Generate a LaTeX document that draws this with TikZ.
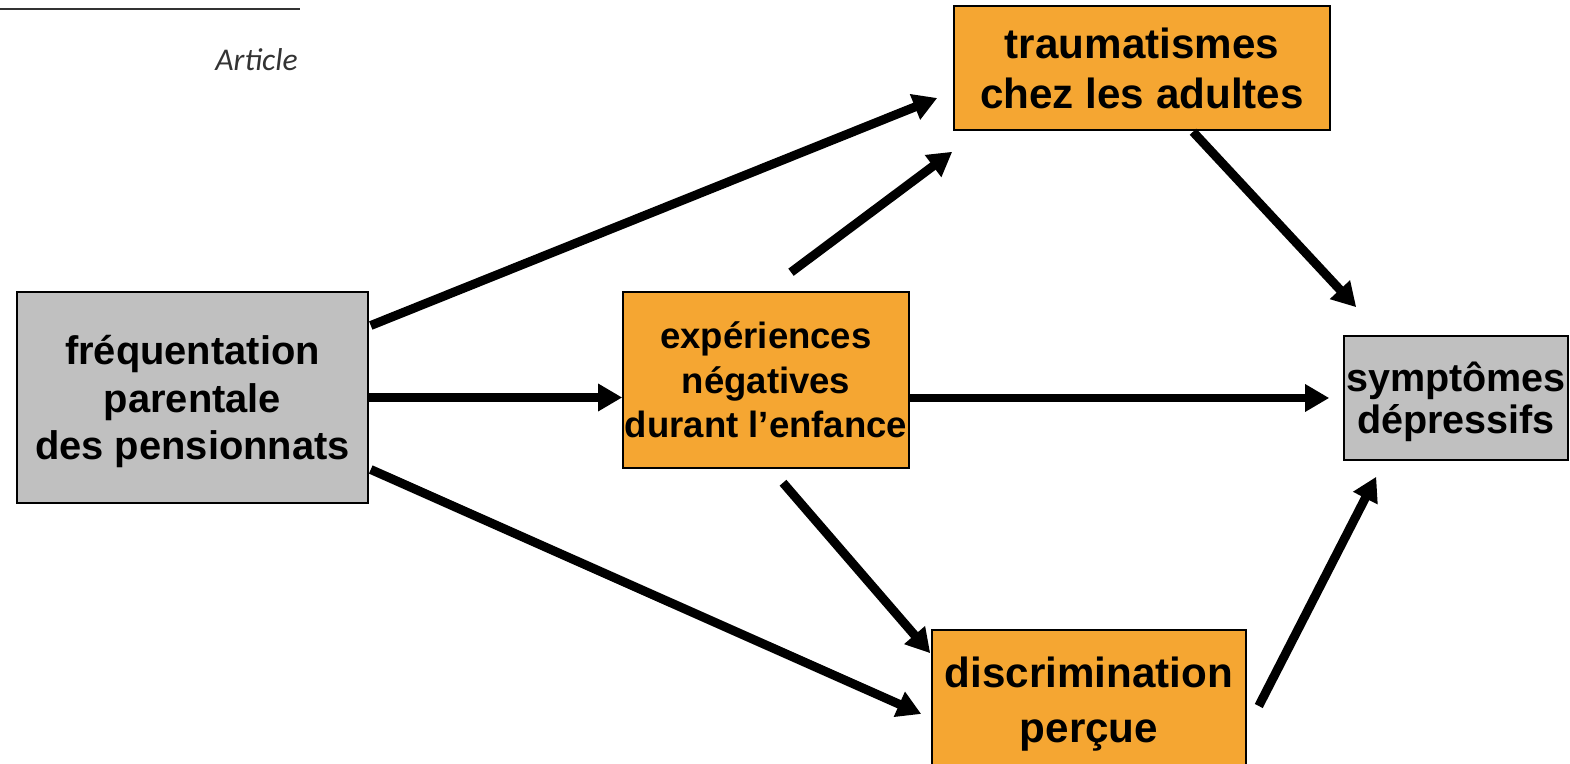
\documentclass[tikz,border=0pt]{standalone}
\usepackage{fontspec}
\setmainfont{Liberation Sans}
\newfontfamily\articlefont{Carlito}
\usetikzlibrary{arrows.meta, calc, positioning}

\definecolor{boxorange}{RGB}{245,166,50}
\definecolor{boxgray}{RGB}{192,192,192}

\begin{document}
\begin{tikzpicture}[x=0.02cm, y=0.02cm,
    every node/.style={inner sep=0pt, align=center, text depth=0pt},
    greybox/.style={draw=black, line width=0.9pt, fill=boxgray},
    orangebox/.style={draw=black, line width=0.9pt, fill=boxorange},
    arr/.style={line width=5.1pt, -{Triangle[length=0.48cm, width=0.52cm]}}]

        \useasboundingbox (0,0) rectangle (1570,764);
        \clip (0,0) rectangle (1570,764);

        % page header
        \draw[line width=1.6pt, black!80] (0,755) -- (300,755);
        \node[anchor=east, text=black!80, font=\articlefont\itshape\fontsize{18}{21}\selectfont] (article) at (298,704) {Article};

        % boxes
        \node[greybox, minimum width=7.02cm, minimum height=4.22cm, font=\bfseries\fontsize{22.7}{27}\selectfont] (freq) at (192.5,366.5) {fréquentation\\parentale\\des pensionnats};
        \node[orangebox, minimum width=5.72cm, minimum height=3.52cm, font=\bfseries\fontsize{20.8}{25.3}\selectfont] (exp) at (766,384) {expériences\\négatives\\durant l’enfance};
        \node[orangebox, minimum width=7.52cm, minimum height=2.48cm, font=\bfseries\fontsize{24}{28.5}\selectfont] (traum) at (1142,696) {traumatismes\\chez les adultes};
        \node[greybox, minimum width=4.48cm, minimum height=2.48cm, font=\bfseries\fontsize{22.5}{23.9}\selectfont] (sympt) at (1456,366) {symptômes\\dépressifs};
        \node[orangebox, minimum width=6.28cm, minimum height=2.8cm, font=\bfseries\fontsize{24}{31.3}\selectfont] (discr) at (1089,64) {discrimination\\perçue};

        % paths
        \draw[arr] ($(freq.east)+(2,72)$) -- ($(traum.west)+(-16,-30)$);
        \draw[arr] (freq.east) -- (freq.east -| exp.west);
        \draw[arr] ($(freq.east)+(2,-72)$) -- ($(discr.west)+(-10,-14)$);

        \draw[arr] ($(exp.north)+(25,19)$) -- ($(traum.south west)+(-1,-21)$);
        \draw[arr] (exp.east |- sympt.west) -- ($(sympt.west)+(-14,0)$);
        \draw[arr] ($(exp.south)+(17,-14)$) -- ($(discr.north west)+(-1,-24)$);

        \draw[arr] ($(traum.south)+(51,-1)$) -- ($(sympt.north west)+(13,28)$);
        \draw[arr] ($(discr.east)+(12,-6)$) -- ($(sympt.south west)+(33,-16)$);

\end{tikzpicture}
\end{document}
